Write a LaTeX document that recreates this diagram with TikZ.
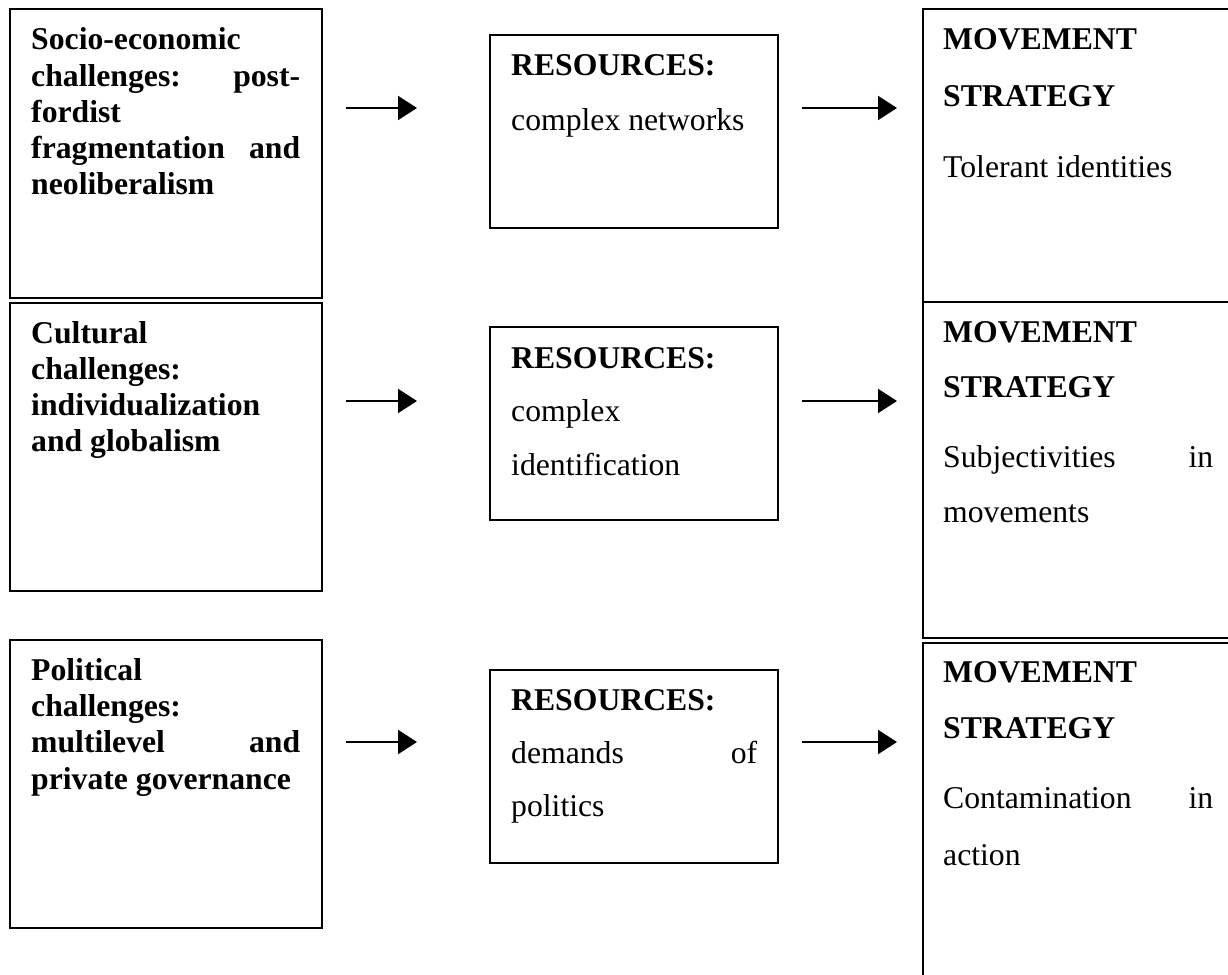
\documentclass[tikz,border=0pt]{standalone}
\usepackage{fontspec}
\setmainfont{Liberation Serif}
\usetikzlibrary{arrows.meta}
\begin{document}
\begin{tikzpicture}[x=1pt,y=-1pt,
  box/.style={draw, line width=1.8pt, inner sep=0pt},
  txt/.style={anchor=base west, inner sep=0pt, font=\fontsize{31.7}{36}\selectfont},
  btxt/.style={anchor=base west, inner sep=0pt, font=\fontsize{31.7}{36}\selectfont\bfseries},
  arr/.style={line width=2pt, -{Triangle[length=19pt,width=24pt]}}]
\useasboundingbox (0,0) rectangle (1228,974);
\clip (0,0) rectangle (1228,974);

% left column
\node[box, minimum width=312pt, minimum height=289pt] (L1) at (166,153.5) {};
\node[box, minimum width=312pt, minimum height=288pt] (L2) at (166,447) {};
\node[box, minimum width=312pt, minimum height=288pt] (L3) at (166,784) {};
% middle column
\node[box, minimum width=288pt, minimum height=193pt] (M1) at (634,131.5) {};
\node[box, minimum width=288pt, minimum height=193pt] (M2) at (634,423.5) {};
\node[box, minimum width=288pt, minimum height=193pt] (M3) at (634,766.5) {};
% right column
\node[box, minimum width=317pt, minimum height=293pt] (R1) at (1081.5,155.5) {};
\node[box, minimum width=317pt, minimum height=336pt] (R2) at (1081.5,470) {};
\node[box, minimum width=317pt, minimum height=357pt] (R3) at (1081.5,821.5) {};

% texts left
\node[btxt] (t11) at (31,50) {Socio-economic};
\node[btxt] (t12) at (31,86) {\makebox[269pt][s]{challenges: post-}};
\node[btxt] (t13) at (31,122) {fordist};
\node[btxt] (t14) at (31,158) {\makebox[269pt][s]{fragmentation and}};
\node[btxt] (t15) at (31,194) {neoliberalism};

\node[btxt] (t21) at (31,343) {Cultural};
\node[btxt] (t22) at (31,379) {challenges:};
\node[btxt] (t23) at (31,415) {individualization};
\node[btxt] (t24) at (31,451) {and globalism};

\node[btxt] (t31) at (31,680) {Political};
\node[btxt] (t32) at (31,716) {challenges:};
\node[btxt] (t33) at (31,752) {\makebox[269pt][s]{multilevel and}};
\node[btxt] (t34) at (31,789) {private governance};

% texts middle
\node[btxt] (m11) at (511,75) {RESOURCES:};
\node[txt]  (m12) at (511,130) {complex networks};

\node[btxt] (m21) at (511,368) {RESOURCES:};
\node[txt]  (m22) at (511,421) {complex};
\node[txt]  (m23) at (511,475) {identification};

\node[btxt] (m31) at (511,710) {RESOURCES:};
\node[txt]  (m32) at (511,763) {\makebox[246pt][s]{demands of}};
\node[txt]  (m33) at (511,816) {politics};

% texts right
\node[btxt] (r11) at (943,49) {MOVEMENT};
\node[btxt] (r12) at (943,106) {STRATEGY};
\node[txt]  (r13) at (943,177) {Tolerant identities};

\node[btxt] (r21) at (943,342) {MOVEMENT};
\node[btxt] (r22) at (943,397) {STRATEGY};
\node[txt]  (r23) at (943,467) {\makebox[270pt][s]{Subjectivities in}};
\node[txt]  (r24) at (943,522) {movements};

\node[btxt] (r31) at (943,682) {MOVEMENT};
\node[btxt] (r32) at (943,738) {STRATEGY};
\node[txt]  (r33) at (943,808) {\makebox[270pt][s]{Contamination in}};
\node[txt]  (r34) at (943,865) {action};

% arrows
\coordinate (a1s) at (346,108); \coordinate (a1e) at (417,108);
\coordinate (b1s) at (802,108); \coordinate (b1e) at (897,108);
\coordinate (a2s) at (346,401); \coordinate (a2e) at (417,401);
\coordinate (b2s) at (802,401); \coordinate (b2e) at (897,401);
\coordinate (a3s) at (346,742); \coordinate (a3e) at (417,742);
\coordinate (b3s) at (802,742); \coordinate (b3e) at (897,742);
\draw[arr] (a1s) -- (a1e);
\draw[arr] (b1s) -- (b1e);
\draw[arr] (a2s) -- (a2e);
\draw[arr] (b2s) -- (b2e);
\draw[arr] (a3s) -- (a3e);
\draw[arr] (b3s) -- (b3e);
\end{tikzpicture}
\end{document}
